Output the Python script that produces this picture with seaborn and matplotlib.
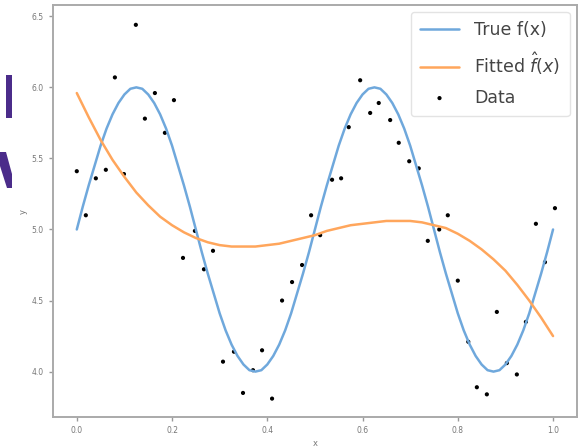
import numpy as np
import pandas as pd
import matplotlib
matplotlib.use("Agg")
import matplotlib.pyplot as plt
from matplotlib.patches import Polygon
import seaborn as sns

# ---- data ----
true_x = [round(0.0125 * k, 4) for k in range(81)]
true_y = [5.00, 5.16, 5.31, 5.45, 5.59, 5.71, 5.81, 5.89, 5.95, 5.99,
          6.00, 5.99, 5.95, 5.89, 5.81, 5.71, 5.59, 5.45, 5.31, 5.16,
          5.00, 4.84, 4.69, 4.55, 4.41, 4.29, 4.19, 4.11, 4.05, 4.01,
          4.00, 4.01, 4.05, 4.11, 4.19, 4.29, 4.41, 4.55, 4.69, 4.84,
          5.00, 5.16, 5.31, 5.45, 5.59, 5.71, 5.81, 5.89, 5.95, 5.99,
          6.00, 5.99, 5.95, 5.89, 5.81, 5.71, 5.59, 5.45, 5.31, 5.16,
          5.00, 4.84, 4.69, 4.55, 4.41, 4.29, 4.19, 4.11, 4.05, 4.01,
          4.00, 4.01, 4.05, 4.11, 4.19, 4.29, 4.41, 4.55, 4.69, 4.84,
          5.00]

fit_x = [round(0.025 * k, 3) for k in range(41)]
fit_y = [5.96, 5.79, 5.63, 5.49, 5.37, 5.26, 5.17, 5.09, 5.03, 4.98,
         4.94, 4.91, 4.89, 4.88, 4.88, 4.88, 4.89, 4.90, 4.92, 4.94,
         4.96, 4.99, 5.01, 5.03, 5.04, 5.05, 5.06, 5.06, 5.06, 5.05,
         5.03, 5.01, 4.97, 4.92, 4.86, 4.79, 4.71, 4.61, 4.50, 4.38, 4.25]

data_x = [0.124, 0.080, 0.164, 0.204, 0.143, 0.185, 0.000, 0.040, 0.061, 0.099,
          0.019, 0.248, 0.286, 0.223, 0.267, 0.307,
          0.595, 0.634, 0.616, 0.658, 0.571, 0.676, 0.698, 0.555, 0.536,
          0.492, 0.511, 0.473, 0.452, 0.431, 0.389, 0.330, 0.370, 0.349, 0.410,
          0.718, 0.779, 0.761, 0.737, 0.964, 1.004,
          0.983, 0.800, 0.882, 0.943, 0.822, 0.903, 0.924, 0.840, 0.861]
data_y = [6.44, 6.07, 5.96, 5.91, 5.78, 5.68, 5.41, 5.36, 5.42, 5.39,
          5.10, 4.99, 4.85, 4.80, 4.72, 4.07,
          6.05, 5.89, 5.82, 5.77, 5.72, 5.61, 5.48, 5.36, 5.35,
          5.10, 4.96, 4.75, 4.63, 4.50, 4.15, 4.14, 4.01, 3.85, 3.81,
          5.43, 5.10, 5.00, 4.92, 5.04, 5.15,
          4.77, 4.64, 4.42, 4.35, 4.21, 4.06, 3.98, 3.89, 3.84]

x_ticks = [0.0, 0.2, 0.4, 0.6, 0.8, 1.0]
y_ticks = [4.0, 4.5, 5.0, 5.5, 6.0, 6.5]

true_df = pd.DataFrame({"x": true_x, "y": true_y})
fit_df = pd.DataFrame({"x": fit_x, "y": fit_y})
data_df = pd.DataFrame({"x": data_x, "y": data_y})

sns.set_theme(style="ticks")
plt.rcParams["font.family"] = ["DejaVu Sans"]

W, H = 586, 448
fig = plt.figure(figsize=(W / 100, H / 100), dpi=100)
ax = fig.add_axes([0.0904, 0.069, 0.894, 0.920])

sns.lineplot(data=true_df, x="x", y="y", ax=ax, color="#6fa8dc", linewidth=1.8,
             label="True f(x)")
sns.lineplot(data=fit_df, x="x", y="y", ax=ax, color="#ffa65c", linewidth=1.8,
             label=r"Fitted $\hat{f}(x)$")
sns.scatterplot(data=data_df, x="x", y="y", ax=ax, color="black", s=9,
                edgecolor="none", label="Data")

ax.set_xticks(x_ticks)
ax.set_yticks(y_ticks)
ax.set_xlim(-0.05, 1.05)
ax.set_ylim(3.68, 6.58)
ax.tick_params(labelsize=5.5, colors="#999999", labelcolor="#777777", length=3, width=1)
ax.set_xlabel("x", fontsize=6, color="#777777", labelpad=3)
ax.set_ylabel("y", fontsize=6, color="#777777", labelpad=3)
for sp in ax.spines.values():
    sp.set_color("#aaaaaa")
    sp.set_linewidth(1.4)

leg = ax.legend(loc="upper right", fontsize=12.5, frameon=True, borderpad=0.55,
                handlelength=2.2, labelspacing=0.65, handletextpad=0.9,
                borderaxespad=0.4)
leg.get_frame().set_edgecolor("#dddddd")
for t in leg.get_texts():
    t.set_color("#444444")

# cut-off purple shapes at the left edge of the reference (pixel coords from top-left)
def px(points):
    return [(x / W, 1 - y / H) for x, y in points]

purple = "#4b2c8a"
fig.patches.append(Polygon(px([(6, 75), (12, 75), (12, 118), (6, 118)]),
                           closed=True, transform=fig.transFigure,
                           facecolor=purple, edgecolor="none"))
fig.patches.append(Polygon(px([(0, 152), (6, 152), (12, 174), (12, 188),
                               (7, 188), (0, 166)]),
                           closed=True, transform=fig.transFigure,
                           facecolor=purple, edgecolor="none"))

fig.savefig("out.png", dpi=100)
